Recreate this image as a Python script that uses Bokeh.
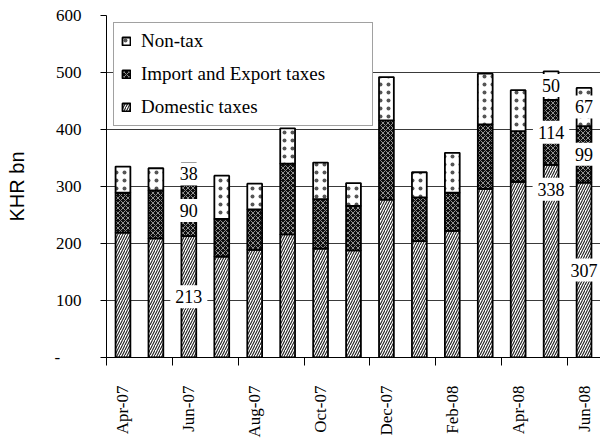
import math
from bokeh.plotting import figure
from bokeh.models import ColumnDataSource, FixedTicker, Legend, LegendItem, Range1d
from bokeh.core.properties import value
from bokeh.embed import file_html
from bokeh.resources import INLINE

# ---- data ----
months = ["Apr-07", "May-07", "Jun-07", "Jul-07", "Aug-07", "Sep-07", "Oct-07", "Nov-07",
          "Dec-07", "Jan-08", "Feb-08", "Mar-08", "Apr-08", "May-08", "Jun-08"]
domestic = [219, 209, 213, 177, 189, 216, 191, 188, 277, 204, 222, 296, 308, 338, 307]
import_export = [70, 84, 90, 66, 71, 124, 87, 78, 139, 77, 67, 113, 89, 114, 99]
non_tax = [46, 39, 38, 76, 45, 62, 64, 40, 76, 44, 70, 89, 72, 50, 67]
labelled_months = ["Jun-07", "May-08", "Jun-08"]
y_ticks = [0, 100, 200, 300, 400, 500, 600]

# label vertical nudges in screen pixels (style), per (month, series)
label_nudge = {("May-08", "dom"): -72}

xs = list(range(len(months)))
t_imp = [d + i for d, i in zip(domestic, import_export)]
t_non = [a + n for a, n in zip(t_imp, non_tax)]

src = ColumnDataSource(dict(x=xs, b0=[0] * len(xs), t0=domestic, b1=domestic, t1=t_imp,
                            b2=t_imp, t2=t_non))

p = figure(width=600, height=440, output_backend="svg", toolbar_location=None,
           title=None,
           x_range=Range1d(-0.5, len(months) - 0.5), y_range=Range1d(0, 600),
           min_border_left=106, min_border_top=15, min_border_right=0, min_border_bottom=79)
p.outline_line_color = None
p.background_fill_color = "white"
p.border_fill_color = "white"

serif = "Liberation Serif"

bar_w = 0.45
r_dom = p.vbar(x="x", width=bar_w, bottom="b0", top="t0", source=src,
               fill_color="white", line_color="black", line_width=1.8,
               hatch_pattern="/", hatch_color="#1e1e1e", hatch_scale=5, hatch_weight=1.1)
r_imp = p.vbar(x="x", width=bar_w, bottom="b1", top="t1", source=src,
               fill_color="#0d0d0d", line_color="black", line_width=1.8,
               hatch_pattern="x", hatch_color="#a0a0a0", hatch_scale=5, hatch_weight=0.9)
r_non = p.vbar(x="x", width=bar_w, bottom="b2", top="t2", source=src,
               fill_color="white", line_color="black", line_width=1.8,
               hatch_pattern=".", hatch_color="#555555", hatch_scale=8, hatch_weight=0.8)

# data labels
lx, ly, lt, ldy = [], [], [], []
for m in labelled_months:
    i = months.index(m)
    segs = [("dom", 0, domestic[i]), ("imp", domestic[i], import_export[i]),
            ("non", t_imp[i], non_tax[i])]
    for key, base, v in segs:
        lx.append(i)
        ly.append(base + v / 2)
        lt.append(str(v))
        ldy.append(label_nudge.get((m, key), 0))
lab_src = ColumnDataSource(dict(x=lx, y=ly, text=lt, dy=ldy))
p.text(x="x", y="y", text="text", y_offset="dy", source=lab_src,
       text_align="center", text_baseline="middle",
       text_font=value(serif), text_font_size="18px", text_color="black",
       background_fill_color="white", padding=5)

# grid
p.xgrid.visible = False
p.ygrid.ticker = FixedTicker(ticks=y_ticks)
p.ygrid.grid_line_color = "#3a3a3a"
p.ygrid.grid_line_width = 1

# y axis
p.yaxis.ticker = FixedTicker(ticks=y_ticks)
p.yaxis.major_label_overrides = {0: "-" + "\u00a0" * 5}
p.yaxis.major_label_text_font = serif
p.yaxis.major_label_text_font_size = "17px"
p.yaxis.major_label_text_color = "black"
p.yaxis.major_tick_out = 6
p.yaxis.major_tick_in = 0
p.yaxis.minor_tick_line_color = None
p.yaxis.major_label_standoff = 19
p.yaxis.axis_line_color = "black"
p.yaxis.major_tick_line_color = "black"
p.yaxis.axis_label = "KHR bn"
p.yaxis.axis_label_text_font = "Liberation Sans"
p.yaxis.axis_label_text_font_size = "20px"
p.yaxis.axis_label_text_font_style = "normal"
p.yaxis.axis_label_text_color = "black"
p.yaxis.axis_label_standoff = 24

# x axis
p.xaxis.ticker = FixedTicker(ticks=xs[::2], minor_ticks=[i - 0.5 for i in xs[::2]])
p.xaxis.major_label_overrides = {i: months[i] for i in xs[::2]}
p.xaxis.major_label_orientation = math.pi / 2
p.xaxis.major_label_text_font = serif
p.xaxis.major_label_text_font_size = "17px"
p.xaxis.major_label_text_color = "black"
p.xaxis.major_tick_out = 0
p.xaxis.major_tick_in = 0
p.xaxis.minor_tick_out = 8
p.xaxis.minor_tick_in = 0
p.xaxis.minor_tick_line_color = "black"
p.xaxis.major_label_standoff = 20
p.xaxis.axis_line_color = "black"

legend = Legend(items=[LegendItem(label="Non-tax", renderers=[r_non]),
                       LegendItem(label="Import and Export taxes", renderers=[r_imp]),
                       LegendItem(label="Domestic taxes", renderers=[r_dom])],
                location="top_left")
legend.label_text_font = serif
legend.label_text_font_size = "19px"
legend.label_text_color = "black"
legend.glyph_width = 10
legend.glyph_height = 10
legend.label_height = 20
legend.label_width = 224
legend.label_standoff = 10
legend.spacing = 11
legend.padding = 7
legend.margin = 7
legend.border_line_color = "#444444"
legend.border_line_width = 1
legend.background_fill_color = "white"
legend.background_fill_alpha = 1
p.add_layout(legend)

open("out.html", "w").write(file_html(p, INLINE))
